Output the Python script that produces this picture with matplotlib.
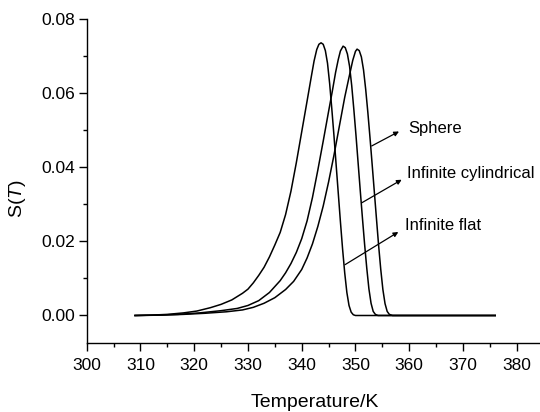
import matplotlib
matplotlib.use("Agg")
import matplotlib.pyplot as plt
from matplotlib.ticker import MultipleLocator

plt.rcParams['font.family'] = ['Liberation Sans', 'DejaVu Sans']
plt.rcParams['mathtext.fontset'] = 'custom'
plt.rcParams['mathtext.rm'] = 'Liberation Sans'
plt.rcParams['mathtext.it'] = 'Liberation Sans:italic'

# Infinite flat
flat_T = [309, 312, 315, 318, 320.5, 323, 325, 327, 329, 330, 331, 332, 333, 334,
          335, 336, 337, 338, 339, 340, 341, 341.8, 342.3, 342.8, 343.2, 343.6,
          344.0, 344.4, 344.8, 345.2, 345.6, 346.0, 346.4, 346.8, 347.2, 347.6,
          348.0, 348.4, 348.8, 349.2, 349.6, 350.0, 376]
flat_S = [0.0, 0.0001, 0.0003, 0.0007, 0.0012, 0.0021, 0.0030, 0.0042, 0.0060,
          0.0071, 0.0088, 0.0108, 0.0130, 0.0158, 0.0190, 0.0224, 0.0272, 0.0335,
          0.0412, 0.0495, 0.0578, 0.0645, 0.0686, 0.0717, 0.0731, 0.0735, 0.0731,
          0.0714, 0.0680, 0.0625, 0.0557, 0.0485, 0.0407, 0.0330, 0.0253, 0.0180,
          0.0115, 0.0062, 0.0027, 0.0009, 0.0002, 0.0, 0.0]

# Infinite cylindrical
cyl_T = [309, 313, 317, 321, 325, 328, 330, 332, 334, 336, 337, 338, 339, 340,
         341, 342, 343, 344, 345, 345.7, 346.3, 346.8, 347.2, 347.7, 348.1, 348.5,
         348.9, 349.3, 349.7, 350.1, 350.5, 350.9, 351.3, 351.7, 352.1, 352.5,
         352.9, 353.3, 353.7, 354.2, 376]
cyl_S = [0.0, 0.0001, 0.0003, 0.0007, 0.0013, 0.0019, 0.0027, 0.0040, 0.0062,
         0.0094, 0.0115, 0.0140, 0.0170, 0.0207, 0.0255, 0.0318, 0.0392, 0.0470,
         0.0550, 0.0605, 0.0655, 0.0690, 0.0713, 0.0726, 0.0722, 0.0705, 0.0672,
         0.0620, 0.0555, 0.0485, 0.0410, 0.0335, 0.0262, 0.0192, 0.0128, 0.0072,
         0.0033, 0.0011, 0.0003, 0.0, 0.0]

# Sphere
sph_T = [309, 314, 318, 322, 326, 329, 331, 333, 335, 337, 338.5, 340, 341, 342,
         343, 344, 345, 346, 347, 348, 348.8, 349.5, 350.0, 350.3, 350.7, 351.1,
         351.5, 351.9, 352.3, 352.7, 353.1, 353.5, 353.9, 354.3, 354.7, 355.1,
         355.5, 355.9, 356.3, 356.9, 376]
sph_S = [0.0, 0.0001, 0.0003, 0.0006, 0.0010, 0.0015, 0.0022, 0.0033, 0.0048,
         0.0070, 0.0092, 0.0124, 0.0155, 0.0193, 0.0240, 0.0295, 0.0360, 0.0432,
         0.0510, 0.0588, 0.0642, 0.0688, 0.0712, 0.0718, 0.0714, 0.0697, 0.0662,
         0.0610, 0.0548, 0.0480, 0.0408, 0.0335, 0.0262, 0.0190, 0.0125, 0.0070,
         0.0032, 0.0011, 0.0003, 0.0, 0.0]

labels = ["Sphere", "Infinite cylindrical", "Infinite flat"]
arrow_tail = [(353.02, 0.0457), (351.2, 0.0304), (348.06, 0.0137)]
arrow_head = [(358.1, 0.0496), (358.6, 0.0366), (357.97, 0.0225)]
label_pos = [(359.8, 0.0503), (359.6, 0.0384), (359.3, 0.0243)]

fig = plt.figure(figsize=(5.40, 4.12), dpi=100)
ax = fig.add_axes([0.1605, 0.1667, 0.8462, 0.7879])

for T, S in [(flat_T, flat_S), (cyl_T, cyl_S), (sph_T, sph_S)]:
    ax.plot(T, S, color='black', lw=1.1, solid_joinstyle='round')

for lab, tail, head, pos in zip(labels, arrow_tail, arrow_head, label_pos):
    ax.annotate('', xy=head, xytext=tail,
                arrowprops=dict(arrowstyle='-|>', color='black', lw=0.9,
                                mutation_scale=7, shrinkA=0, shrinkB=0))
    ax.text(pos[0], pos[1], lab, fontsize=12, ha='left', va='center')

ax.set_xlim(300, 385)
ax.set_ylim(-0.0075, 0.08)
ax.xaxis.set_major_locator(MultipleLocator(10))
ax.xaxis.set_minor_locator(MultipleLocator(5))
ax.yaxis.set_major_locator(MultipleLocator(0.02))
ax.yaxis.set_minor_locator(MultipleLocator(0.01))
ax.yaxis.set_major_formatter(plt.FormatStrFormatter('%.2f'))

for side in ('top', 'right'):
    ax.spines[side].set_visible(False)
for side in ('left', 'bottom'):
    ax.spines[side].set_linewidth(1.0)

ax.tick_params(which='major', direction='out', length=5.5, width=1.0,
               labelsize=12.5, pad=3)
ax.tick_params(axis='x', which='major', pad=5)
ax.tick_params(which='minor', direction='out', length=3, width=1.0)

ax.set_xlabel('Temperature/K', fontsize=14)
ax.set_ylabel('S($\\mathit{T}$)', fontsize=14)
ax.yaxis.set_label_coords(-0.128, 0.445)
ax.xaxis.set_label_coords(0.5, -0.155)

fig.savefig('out.png', dpi=100)
